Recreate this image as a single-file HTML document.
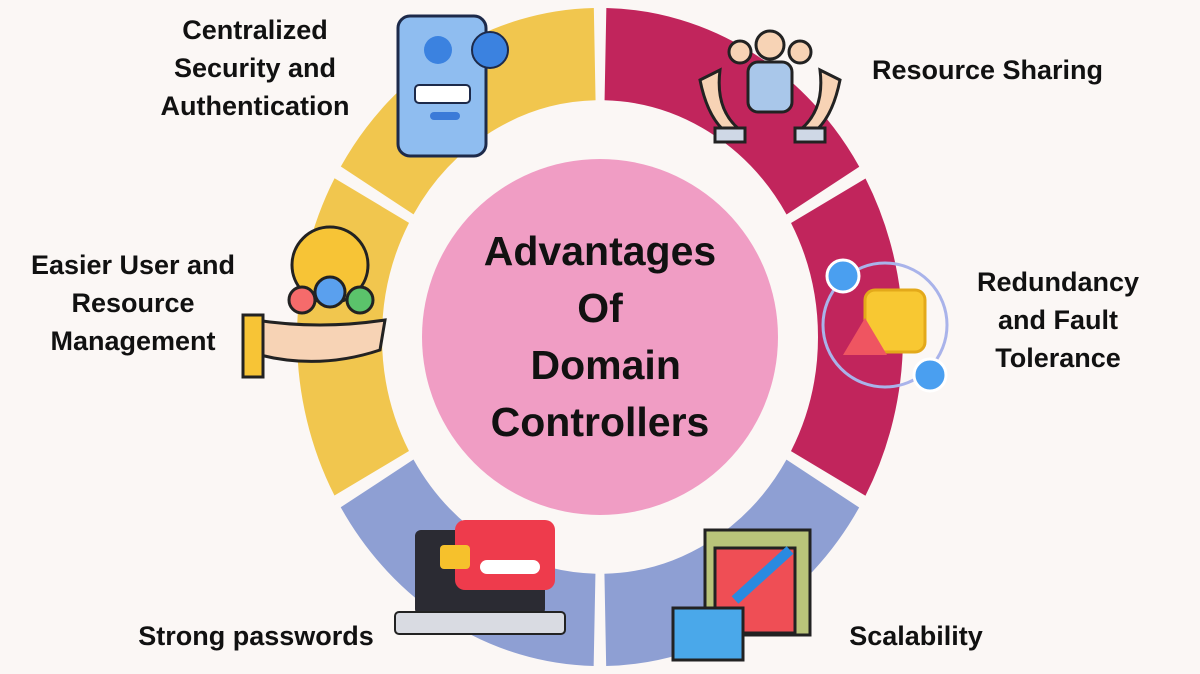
<!DOCTYPE html>
<html><head><meta charset="utf-8"><style>
html,body{margin:0;padding:0;background:#fbf7f5;width:1200px;height:674px;overflow:hidden;}
body{position:relative;font-family:"Liberation Sans",sans-serif;}
.t{position:absolute;font-weight:bold;color:#111;font-size:27px;line-height:38px;text-align:center;white-space:nowrap;}
</style></head><body>
<svg width="1200" height="674" style="position:absolute;left:0;top:0;display:block">
<g transform="translate(600,337) scale(1,1.086)">
<g fill="none" stroke-width="85">
<circle r="260.5" stroke="#c1255c" stroke-dasharray="262 1400" transform="rotate(-88.8)"/>
<circle r="260.5" stroke="#c1255c" stroke-dasharray="262 1400" transform="rotate(-28.8)"/>
<circle r="260.5" stroke="#8e9fd3" stroke-dasharray="262 1400" transform="rotate(31.2)"/>
<circle r="260.5" stroke="#8e9fd3" stroke-dasharray="262 1400" transform="rotate(91.2)"/>
<circle r="260.5" stroke="#f1c64e" stroke-dasharray="262 1400" transform="rotate(151.2)"/>
<circle r="260.5" stroke="#f1c64e" stroke-dasharray="262 1400" transform="rotate(211.2)"/>
</g></g>
<circle cx="600" cy="337" r="178" fill="#f09dc4"/>
<rect x="398" y="16" width="88" height="140" rx="12" fill="#8fbdf0" stroke="#1d2a4a" stroke-width="3"/>
<rect x="415" y="85" width="55" height="18" rx="4" fill="#fff" stroke="#1d2a4a" stroke-width="2"/>
<rect x="430" y="112" width="30" height="8" rx="4" fill="#3b7ad8"/>
<circle cx="438" cy="50" r="14" fill="#3b82e0"/>
<circle cx="490" cy="50" r="18" fill="#3b82e0" stroke="#1d2a4a" stroke-width="2"/>
<path d="M700 80 Q710 130 740 140 L740 130 Q715 110 720 70Z" fill="#f7d3b5" stroke="#222" stroke-width="3"/>
<path d="M840 80 Q830 130 800 140 L800 130 Q825 110 820 70Z" fill="#f7d3b5" stroke="#222" stroke-width="3"/>
<circle cx="770" cy="45" r="14" fill="#f7d3b5" stroke="#222" stroke-width="3"/>
<circle cx="740" cy="52" r="11" fill="#f7d3b5" stroke="#222" stroke-width="3"/>
<circle cx="800" cy="52" r="11" fill="#f7d3b5" stroke="#222" stroke-width="3"/>
<rect x="748" y="62" width="44" height="50" rx="10" fill="#a9c7ea" stroke="#222" stroke-width="3"/>
<rect x="715" y="128" width="30" height="14" fill="#cfd8e6" stroke="#222" stroke-width="3"/>
<rect x="795" y="128" width="30" height="14" fill="#cfd8e6" stroke="#222" stroke-width="3"/>
<circle cx="885" cy="325" r="62" fill="none" stroke="#a9b3ea" stroke-width="3"/>
<rect x="865" y="290" width="60" height="62" rx="10" fill="#f8c832" stroke="#e3a91a" stroke-width="3"/>
<path d="M843 355 L865 318 L887 355Z" fill="#ef5561"/>
<circle cx="843" cy="276" r="16" fill="#4a9ff0" stroke="#fff" stroke-width="3"/>
<circle cx="930" cy="375" r="16" fill="#4a9ff0" stroke="#fff" stroke-width="3"/>
<circle cx="330" cy="265" r="38" fill="#f7c436" stroke="#222" stroke-width="3"/>
<circle cx="302" cy="300" r="13" fill="#f56b6b" stroke="#222" stroke-width="3"/>
<circle cx="330" cy="292" r="15" fill="#5aa0ee" stroke="#222" stroke-width="3"/>
<circle cx="360" cy="300" r="13" fill="#5bc36b" stroke="#222" stroke-width="3"/>
<path d="M255 320 Q320 330 385 320 L380 350 Q320 370 260 355Z" fill="#f7d3b5" stroke="#222" stroke-width="3"/>
<rect x="243" y="315" width="20" height="62" fill="#f7c436" stroke="#222" stroke-width="3"/>
<rect x="415" y="530" width="130" height="85" rx="6" fill="#2b2b33"/>
<rect x="395" y="612" width="170" height="22" rx="4" fill="#d9dbe2" stroke="#222" stroke-width="2"/>
<rect x="455" y="520" width="100" height="70" rx="10" fill="#ee3b4c"/>
<rect x="480" y="560" width="60" height="14" rx="7" fill="#fff"/>
<rect x="440" y="545" width="30" height="24" rx="4" fill="#f6c12c"/>
<rect x="705" y="530" width="105" height="105" fill="#b9c47a" stroke="#222" stroke-width="3"/>
<rect x="715" y="548" width="80" height="85" fill="#ef4e55" stroke="#222" stroke-width="3"/>
<path d="M735 600 L790 550" stroke="#2a8ae0" stroke-width="10"/>
<rect x="673" y="608" width="70" height="52" fill="#4aa8ea" stroke="#222" stroke-width="3"/>
</svg>
<div class="t" style="left:120px;top:11px;width:270px">Centralized<br>Security and<br>Authentication</div>
<div class="t" style="left:850px;top:51px;width:275px">Resource Sharing</div>
<div class="t" style="left:948px;top:263px;width:220px">Redundancy<br>and Fault<br>Tolerance</div>
<div class="t" style="left:3px;top:246px;width:260px">Easier User and<br>Resource<br>Management</div>
<div class="t" style="left:115px;top:617px;width:282px">Strong passwords</div>
<div class="t" style="left:820px;top:617px;width:192px">Scalability</div>
<div class="t" style="left:430px;top:223px;width:340px;font-size:41px;line-height:57px">Advantages<br>Of<br>&nbsp;Domain<br>Controllers</div>
</body></html>
